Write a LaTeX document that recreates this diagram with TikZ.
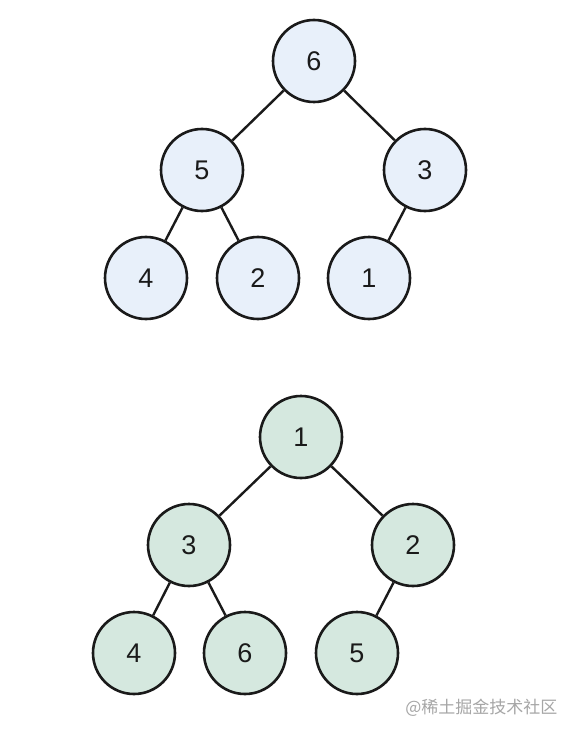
\documentclass[tikz,border=0pt]{standalone}
\usepackage{fontspec}
\setmainfont{Liberation Sans}
\newfontfamily\cjk{Noto Sans CJK SC}
\definecolor{blueF}{HTML}{E8F0FA}
\definecolor{greenF}{HTML}{D5E8DF}
\definecolor{lineC}{HTML}{1A1A1A}
\begin{document}
\begin{tikzpicture}[x=1pt,y=-1pt,
  nd/.style={circle,draw=lineC,line width=2.6pt,minimum size=82pt,inner sep=0pt,font=\fontsize{27}{30}\selectfont,text=lineC},
  bn/.style={nd,fill=blueF},
  gn/.style={nd,fill=greenF},
  ed/.style={draw=lineC,line width=2.4pt}]
\useasboundingbox (0,0) rectangle (582,738);
\fill[white] (0,0) rectangle (582,738);
% top tree
\node[bn] (t6) at (314,61) {6};
\node[bn] (t5) at (202,170) {5};
\node[bn] (t3) at (425,170) {3};
\node[bn] (t4) at (146,278) {4};
\node[bn] (t2) at (258,278) {2};
\node[bn] (t1) at (369,278) {1};
\draw[ed] (t6) -- (t5);
\draw[ed] (t6) -- (t3);
\draw[ed] (t5) -- (t4);
\draw[ed] (t5) -- (t2);
\draw[ed] (t3) -- (t1);
% bottom tree
\node[gn] (b1) at (301,437) {1};
\node[gn] (b3) at (189,545) {3};
\node[gn] (b2) at (413,545) {2};
\node[gn] (b4) at (134,653) {4};
\node[gn] (b6) at (245,653) {6};
\node[gn] (b5) at (357,653) {5};
\draw[ed] (b1) -- (b3);
\draw[ed] (b1) -- (b2);
\draw[ed] (b3) -- (b4);
\draw[ed] (b3) -- (b6);
\draw[ed] (b2) -- (b5);
\node[font=\cjk\fontsize{17}{20}\selectfont,text=black!35,anchor=east] (wm) at (561,708) {@稀土掘金技术社区};
\end{tikzpicture}
\end{document}
